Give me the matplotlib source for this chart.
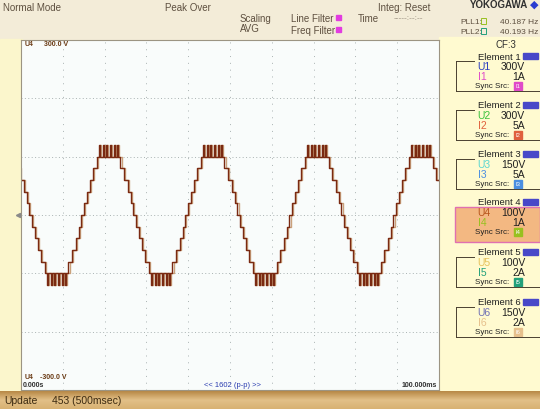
import numpy as np
import matplotlib.pyplot as plt
from matplotlib.patches import Rectangle

plt.rcParams['font.family'] = ['Liberation Sans Narrow', 'Liberation Sans', 'DejaVu Sans']

# trace of U4 (one half period of the staircase), ms / V
freq_hz = 40.187
t_rise_ms = 14.8
half_t_ms = [0.00, 0.34, 1.02, 1.73, 2.52, 3.44, 3.90, 4.20, 4.70, 5.00, 5.60, 5.85,
             6.50, 6.80, 7.40, 7.70, 8.20, 8.50, 9.00, 9.92, 10.71, 11.42, 12.10]
half_v = [0, 20, 40, 60, 80, 100, 120, 100, 120, 100, 120, 100,
          120, 100, 120, 100, 120, 100, 80, 60, 40, 20, 0]

# right panel
elem_names = ['Element 1', 'Element 2', 'Element 3', 'Element 4', 'Element 5', 'Element 6']
u_names = ['U1', 'U2', 'U3', 'U4', 'U5', 'U6']
i_names = ['I1', 'I2', 'I3', 'I4', 'I5', 'I6']
u_ranges = ['300V', '300V', '150V', '100V', '100V', '150V']
i_ranges = ['1A', '5A', '5A', '1A', '2A', '2A']
u_colors = ['#2a3cc0', '#3cc23c', '#5ad6d0', '#b8561c', '#e6c25a', '#7070b4']
i_colors = ['#e04ac8', '#e0603c', '#4a8ee0', '#98c020', '#22a07a', '#e6c08c']
elem_y = [57, 106, 155, 203, 253, 303]

# build the staircase over the screen
period = 1000.0 / freq_hz
t_all, v_all = [], []
for k in range(-1, 5):
    base = t_rise_ms + k * period
    for t, v in zip(half_t_ms, half_v):
        t_all.append(base + t)
        v_all.append(v)
    for t, v in zip(half_t_ms, half_v):
        t_all.append(base + period / 2 + t)
        v_all.append(-v)
t_all = np.array(t_all)
v_all = np.array(v_all)

fig = plt.figure(figsize=(5.4, 4.1), dpi=100)

bg = fig.add_axes([0, 0, 1, 1], zorder=0)
bg.set_xlim(0, 540)
bg.set_ylim(410, 0)
bg.axis('off')

# panels
bg.add_patch(Rectangle((0, 0), 540, 40, color='#f3ecd8'))
bg.add_patch(Rectangle((0, 40), 22, 352, color='#fbf6cc'))
bg.add_patch(Rectangle((439, 38), 101, 354, color='#fffad0'))
grad = np.linspace(0, 1, 20).reshape(-1, 1)
bg.imshow(grad, extent=(0, 540, 410, 392), cmap=plt.matplotlib.colors.LinearSegmentedColormap.from_list(
    'bar', ['#b98a48', '#e2c088', '#d8b273']), aspect='auto', zorder=1)

# the scope area
ax = fig.add_axes([21 / 540, 1 - 391 / 410, 418 / 540, 350 / 410], zorder=1)
ax.set_facecolor('#f9fcfb')
ax.set_xlim(0, 100)
ax.set_ylim(-300, 300)
ax.set_xticks([])
ax.set_yticks([])
for s in ax.spines.values():
    s.set_color('#9c9482')
    s.set_linewidth(0.8)
for x in range(10, 100, 10):
    ax.axvline(x, color='#a9b2b2', lw=0.7, ls=(0, (1, 6)))
for y in [-200, -100, 0, 100, 200]:
    ax.axhline(y, color='#a9b2b2', lw=0.7, ls=(0, (1, 2.5)))

ax.step(t_all + 0.25, v_all, where='post', color='#caa27c', lw=1.0)
ax.step(t_all, v_all, where='post', color='#7a2a12', lw=1.0)

top = fig.add_axes([0, 0, 1, 1], zorder=3)
top.set_xlim(0, 540)
top.set_ylim(410, 0)
top.axis('off')
top.patch.set_visible(False)

hc = '#5e5040'
top.text(3, 8, 'Normal Mode', fontsize=7, color=hc, va='center')
top.text(165, 8, 'Peak Over', fontsize=7, color=hc, va='center')
top.text(240, 19, 'Scaling', fontsize=7, color=hc, va='center')
top.text(240, 29, 'AVG', fontsize=7, color=hc, va='center')
top.text(291, 19, 'Line Filter', fontsize=7, color=hc, va='center')
top.text(291, 31, 'Freq Filter', fontsize=7, color=hc, va='center')
top.add_patch(Rectangle((336, 16), 5, 5, color='#e23ce0'))
top.add_patch(Rectangle((336, 28), 5, 5, color='#e23ce0'))
top.text(358, 19, 'Time', fontsize=7, color=hc, va='center')
top.text(378, 8, 'Integ: Reset', fontsize=7, color=hc, va='center')
top.text(394, 19, '-----:--:--', fontsize=6, color='#9a9080', va='center')
top.text(470, 5, 'YOKOGAWA', fontsize=7, color='#303030', va='center', fontweight='bold')
top.text(530, 5, '\u25c6', fontsize=8, color='#2a3cd0', va='center')
top.text(460, 22, 'PLL1:', fontsize=6, color=hc, va='center')
top.text(460, 32, 'PLL2:', fontsize=6, color=hc, va='center')
top.add_patch(Rectangle((481, 19), 5, 6, fill=False, ec='#98c020', lw=0.7))
top.add_patch(Rectangle((481, 29), 5, 6, fill=False, ec='#22a07a', lw=0.7))
top.text(500, 22, '40.187 Hz', fontsize=6, color=hc, va='center')
top.text(500, 32, '40.193 Hz', fontsize=6, color=hc, va='center')
top.text(495, 45, 'CF:3', fontsize=7, color='#303030', va='center')

# right panel elements
for n in range(6):
    y0 = elem_y[n]
    if n == 3:
        top.add_patch(Rectangle((455, y0 + 5), 85, 35, fc='#f3b882', ec='#e070b0', lw=1.0))
    else:
        top.plot([456, 474], [y0 + 5, y0 + 5], color='#4a4030', lw=0.7)
        top.plot([456, 456], [y0 + 5, y0 + 35], color='#4a4030', lw=0.7)
        top.plot([456, 540], [y0 + 35, y0 + 35], color='#4a4030', lw=0.7)
    top.text(478, y0, elem_names[n], fontsize=6.8, color='#202020', va='center')
    top.add_patch(Rectangle((523, y0 - 3), 15, 6, color='#4848c8'))
    top.text(477, y0 + 10, u_names[n], fontsize=7.5, color=u_colors[n], va='center')
    top.text(525, y0 + 10, u_ranges[n], fontsize=7.5, color='#202020', va='center', ha='right')
    top.text(478, y0 + 20, i_names[n], fontsize=7.5, color=i_colors[n], va='center')
    top.text(525, y0 + 20, i_ranges[n], fontsize=7.5, color='#202020', va='center', ha='right')
    top.text(475, y0 + 30, 'Sync Src:', fontsize=5.8, color='#202020', va='center')
    top.add_patch(Rectangle((514, y0 + 26), 8, 8, color=i_colors[n]))
    top.text(518, y0 + 30, i_names[n], fontsize=4.2, color='white', va='center', ha='center')

# scope labels
lc = '#6a3a14'
top.text(25, 45, 'U4', fontsize=5, color=lc, va='center', fontweight='bold')
top.text(44, 45, '300.0 V', fontsize=5, color=lc, va='center', fontweight='bold')
top.text(25, 378, 'U4', fontsize=5, color=lc, va='center', fontweight='bold')
top.text(40, 378, '-300.0 V', fontsize=5, color=lc, va='center', fontweight='bold')
top.text(23, 386, '0.000s', fontsize=5, color='#303030', va='center', fontweight='bold')
top.text(437, 386, '100.000ms', fontsize=5, color='#303030', va='center', ha='right', fontweight='bold')
top.text(232, 386, '<< 1602 (p-p) >>', fontsize=5.5, color='#2a3cb0', va='center', ha='center')
top.plot([18], [216], marker='<', ms=3, color='#8a8a8a')

top.text(4, 401, 'Update', fontsize=7.5, color='#3c2a10', va='center')
top.text(52, 401, '453 (500msec)', fontsize=7.5, color='#3c2a10', va='center')

fig.savefig('out.png', dpi=100)
